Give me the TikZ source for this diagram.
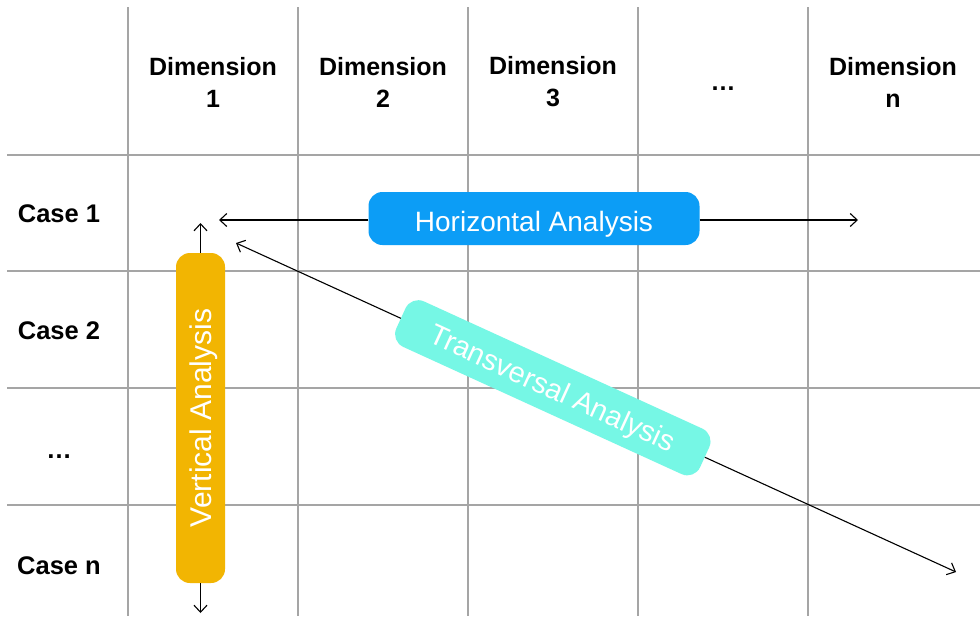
\documentclass[tikz,border=0pt]{standalone}
\usepackage{fontspec}
\setmainfont{Liberation Sans}
\usetikzlibrary{arrows.meta}
\definecolor{gridgray}{RGB}{165,165,165}
\definecolor{hblue}{RGB}{12,157,246}
\definecolor{vorange}{RGB}{242,181,2}
\definecolor{tcyan}{RGB}{118,247,229}
\tikzset{
  gridline/.style={draw=gridgray, line width=1.3pt},
  headtext/.style={font=\bfseries\fontsize{25}{32}\selectfont, align=center, text=black},
  rowtext/.style={font=\bfseries\fontsize{25.5}{32}\selectfont, text=black},
  pill/.style={rounded corners=14pt, text=white, inner sep=0pt, text depth=0pt},
  conn/.style={draw=black, line width=1.1pt, -{Straight Barb[length=7pt,width=13pt,line width=1.1pt]}}
}
\begin{document}
\begin{tikzpicture}[x=1pt,y=-1pt]
\useasboundingbox[fill=white] (0,0) rectangle (980,616);

% table grid
\foreach \gx in {128,298,468,638,808}
  \draw[gridline] (\gx,7) -- (\gx,616);
\foreach \gy in {155,271,388,505}
  \draw[gridline] (7,\gy) -- (980,\gy);

% column headers
\node[headtext] (d1) at (213,82) {Dimension\\1};
\node[headtext] (d2) at (383,82) {Dimension\\2};
\node[headtext] (d3) at (553,82) {Dimension\\3};
\node[headtext, anchor=base] (dd) at (723,90) {…};
\node[headtext] (dn) at (893,82) {Dimension\\n};

% row labels
\node[rowtext] (c1) at (59,214) {Case 1};
\node[rowtext] (c2) at (59,331) {Case 2};
\node[rowtext, anchor=base] (cd) at (59,458) {…};
\node[rowtext] (cn) at (59,566) {Case n};

% horizontal analysis
\node[pill, fill=hblue, minimum width=331pt, minimum height=53pt, text height=25pt,
  font=\fontsize{28}{32}\selectfont] (hbox) at (534,218.5) {Horizontal Analysis};
\coordinate (hl) at (219,220);
\coordinate (hr) at (858,220);
\draw[conn] (hbox.west |- hl) -- (hl);
\draw[conn] (hbox.east |- hr) -- (hr);

% vertical analysis
\node[pill, fill=vorange, rotate=90, minimum width=330pt, minimum height=49pt,
  font=\fontsize{30}{32}\selectfont] (vbox) at (200.5,418) {Vertical Analysis};
\coordinate (vt) at (200.5,223);
\coordinate (vb) at (200.5,613);
\draw[conn] (vbox.east) -- (vt);
\draw[conn] (vbox.west) -- (vb);

% transversal analysis
\coordinate (tl) at (236,243);
\coordinate (tr) at (956,572);
\path (tl) -- (tr) node[pos=0.44, sloped, pill, fill=tcyan, minimum width=334pt, minimum height=50pt,
  font=\fontsize{29}{32}\selectfont] (tbox) {Transversal Analysis};
\draw[conn] (tbox.west) -- (tl);
\draw[conn] (tbox.east) -- (tr);
\end{tikzpicture}
\end{document}
